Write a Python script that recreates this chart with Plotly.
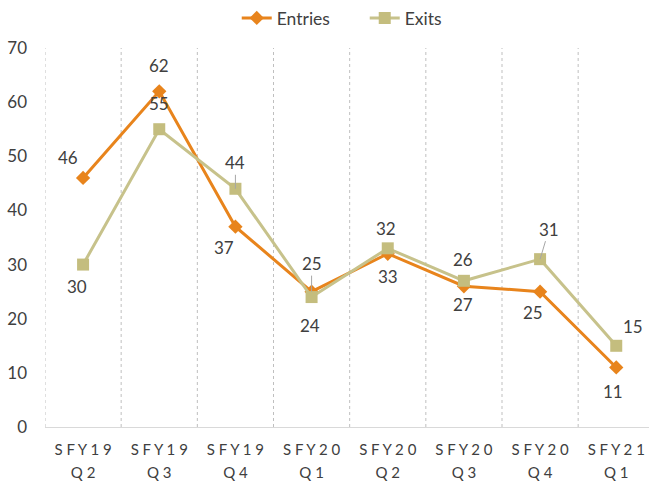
import plotly.graph_objects as go

categories = ["SFY19 Q2", "SFY19 Q3", "SFY19 Q4", "SFY20 Q1", "SFY20 Q2", "SFY20 Q3", "SFY20 Q4", "SFY21 Q1"]
entries = [46, 62, 37, 25, 32, 26, 25, 11]
exits = [30, 55, 44, 24, 33, 27, 31, 15]
y_ticks = [0, 10, 20, 30, 40, 50, 60, 70]

# label offsets (pixels: dx right, dy up) and leader flags
entries_off = [(-15, 20), (0, 26), (-11, -21), (0, 28), (-2, 25), (-1, 27), (-7, -21), (-3, -24)]
entries_lead = [False, False, False, True, False, False, False, False]
exits_off = [(-6, -22), (0, 26), (0, 26), (-2, -28), (0, -28), (-1, -24), (9, 30), (17, 19)]
exits_lead = [False, False, True, False, False, False, True, False]

ORANGE = "#E8841C"
KHAKI = "#C7C28B"
TXT = "#404040"
FONT = "Lato"


def spaced(label):
    a, b = label.split(" ")
    return ("<span style='font-size:15px'>" + " ".join(a) + "</span><br>"
            "<span style='font-size:15px'>" + " ".join(b) + "</span>")


xs = list(range(len(categories)))

fig = go.Figure()
fig.add_trace(go.Scatter(
    x=xs, y=entries, name="Entries", mode="lines+markers",
    line=dict(color=ORANGE, width=3),
    marker=dict(symbol="diamond", size=11, color=ORANGE),
))
fig.add_trace(go.Scatter(
    x=xs, y=exits, name="Exits", mode="lines+markers",
    line=dict(color=KHAKI, width=3),
    marker=dict(symbol="square", size=12, color="#C4BD7E"),
))

annotations = []
for vals, offs, leads in ((entries, entries_off, entries_lead), (exits, exits_off, exits_lead)):
    for i, v in enumerate(vals):
        dx, dy = offs[i]
        if leads[i]:
            annotations.append(dict(
                x=xs[i], y=v, text=str(v), showarrow=True, ax=dx, ay=-dy,
                arrowhead=0, arrowwidth=1, arrowcolor="#A6A6A6", standoff=0,
                font=dict(family=FONT, size=17, color=TXT)))
        else:
            annotations.append(dict(
                x=xs[i], y=v, text=str(v), showarrow=False, xshift=dx, yshift=dy,
                font=dict(family=FONT, size=17, color=TXT)))

fig.update_layout(
    width=649, height=483,
    margin=dict(l=45, r=0, t=48, b=56, autoexpand=False),
    paper_bgcolor="white", plot_bgcolor="white",
    font=dict(family=FONT, size=15, color=TXT),
    showlegend=True,
    legend=dict(orientation="h", x=0.562, xanchor="center", y=1.0, yanchor="top",
                xref="container", yref="container", entrywidth=83,
                font=dict(family=FONT, size=17.5, color=TXT)),
    annotations=annotations,
)
fig.update_xaxes(
    tickmode="array", tickvals=xs, ticktext=[spaced(c) for c in categories],
    range=[-0.5, 7.43], showgrid=False, zeroline=False, automargin=False,
    showline=True, linecolor="#D9D9D9", linewidth=1,
    ticklabelstandoff=6,
    tickfont=dict(family=FONT, size=17.7, color=TXT),
)
# boundary gridlines between categories
for k in range(len(categories)):
    fig.add_shape(type="line", xref="x", yref="paper", x0=k - 0.5, x1=k - 0.5, y0=0, y1=1,
                  line=dict(color="#BFBFBF", width=1, dash="dot"), layer="below")
fig.update_yaxes(
    range=[0, 70], tickvals=y_ticks, showgrid=False, zeroline=False, showline=False,
    automargin=False,
    ticklabelstandoff=17, tickfont=dict(family=FONT, size=17, color=TXT),
)

fig.write_html("out.html", config={"displayModeBar": False},
               post_script="document.body.style.margin='0';")
